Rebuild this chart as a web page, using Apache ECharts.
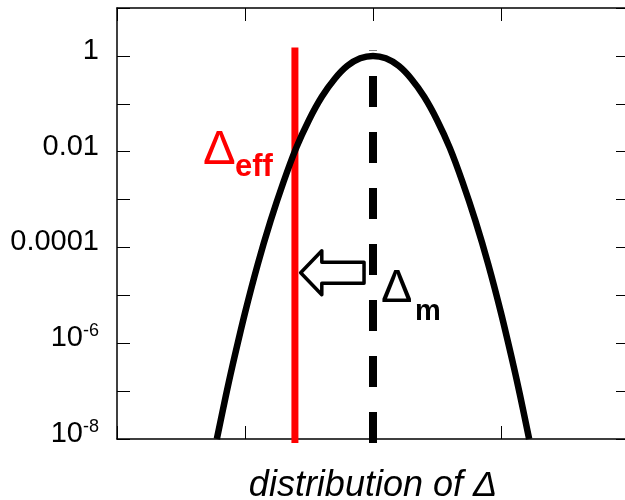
<!DOCTYPE html>
<html>
<head>
<meta charset="utf-8">
<style>
  html, body { margin: 0; padding: 0; background: #fff; }
  #chart { width: 625px; height: 500px; }
</style>
<script src="https://cdn.jsdelivr.net/npm/echarts@6/dist/echarts.min.js"></script>
</head>
<body>
<div id="chart"></div>
<script>
// Distribution curve (log-scale density vs. Δ)
const curveX = [0.78, 0.85, 0.90, 1.00, 1.10, 1.20, 1.30, 1.40, 1.50, 1.60, 1.70, 1.80, 1.90, 2.00,
                2.10, 2.20, 2.30, 2.40, 2.50, 2.60, 2.70, 2.80, 2.90, 3.00, 3.10, 3.15, 3.22];
const curveY = [1e-8, 7.9e-8, 3.2e-7, 4.3e-6, 4.5e-5, 3.6e-4, 2.3e-3, 1.2e-2, 4.6e-2, 0.14, 0.33, 0.62, 0.89, 1,
                0.89, 0.62, 0.33, 0.14, 4.6e-2, 1.2e-2, 2.3e-3, 3.6e-4, 4.5e-5, 4.3e-6, 3.2e-7, 7.9e-8, 1e-8];

// Reference positions on the Δ axis
const deltaEff = 1.39;
const deltaMean = 2.0;
const effLineY = [8.3e-9, 1.5];
const meanLineY = [8.3e-9, 1.3];

// Shift arrow (from Δm towards Δeff)
const arrowTipX = 1.435;
const arrowHeadX = 1.60;
const arrowTailX = 1.93;
const arrowY = 2.95e-5;

// Y tick labels (by decade exponent)
const yTickExp = [-8, -6, -4, -2, 0];
const yTickLabels = ['{b|10}{s|-8}', '{b|10}{s|-6}', '0.0001', '0.01', '1'];

const FONT = '"Liberation Sans", Arial, Helvetica, sans-serif';

const chart = echarts.init(document.getElementById('chart'), null, { renderer: 'canvas' });

function yLabel(v) {
  const e = Math.round(Math.log10(v));
  const i = yTickExp.indexOf(e);
  return i >= 0 ? yTickLabels[i] : '';
}

const axisLineStyle = { color: '#000', width: 1.5 };
const tickStyle = { color: '#000', width: 1 };

const option = {
  animation: false,
  backgroundColor: '#fff',
  grid: { left: 117, right: -4, top: 8, bottom: 61, outerBoundsMode: 'none', containLabel: false },
  xAxis: [
    {
      type: 'value', min: 0, max: 4, interval: 1, position: 'bottom',
      axisLine: { show: true, lineStyle: axisLineStyle },
      axisTick: { show: true, inside: true, length: 13, lineStyle: tickStyle },
      axisLabel: { show: false },
      splitLine: { show: false },
      name: 'distribution of Δ',
      nameLocation: 'middle',
      nameGap: 29,
      nameTextStyle: { fontFamily: FONT, fontStyle: 'italic', fontSize: 36, color: '#000', verticalAlign: 'top' }
    },
    {
      type: 'value', min: 0, max: 4, interval: 1, position: 'top',
      axisLine: { show: true, onZero: false, lineStyle: axisLineStyle },
      axisTick: { show: true, inside: true, length: 13, lineStyle: tickStyle },
      axisLabel: { show: false },
      splitLine: { show: false }
    }
  ],
  yAxis: [
    {
      type: 'log', logBase: 10, min: 1e-8, max: 10, interval: 1, position: 'left',
      axisLine: { show: true, onZero: false, lineStyle: axisLineStyle },
      axisTick: { show: true, inside: true, length: 13, lineStyle: tickStyle },
      splitLine: { show: false },
      axisLabel: {
        show: true, margin: 18, color: '#000', fontFamily: FONT, fontSize: 29,
        padding: [0, 0, 10, 0],
        formatter: yLabel,
        rich: {
          b: { fontFamily: FONT, fontSize: 29, color: '#000', lineHeight: 32 },
          s: { fontFamily: FONT, fontSize: 18, color: '#000', lineHeight: 18, verticalAlign: 'top' }
        }
      }
    },
    {
      type: 'log', logBase: 10, min: 1e-8, max: 10, interval: 1, position: 'right',
      axisLine: { show: true, onZero: false, lineStyle: axisLineStyle },
      axisTick: { show: true, inside: true, length: 13, lineStyle: tickStyle },
      axisLabel: { show: false },
      splitLine: { show: false }
    }
  ],
  series: [
    {
      // Δeff marker line
      type: 'line', xAxisIndex: 0, yAxisIndex: 0, clip: false,
      data: effLineY.map(y => [deltaEff, y]),
      symbol: 'none',
      lineStyle: { color: '#ff0000', width: 7, cap: 'butt' },
      silent: true
    },
    {
      // Δm marker line (dashed)
      type: 'line', xAxisIndex: 0, yAxisIndex: 0, clip: false,
      data: meanLineY.map(y => [deltaMean, y]),
      symbol: 'none',
      lineStyle: { color: '#000', width: 8, type: [31, 25], cap: 'butt' },
      silent: true
    },
    {
      // distribution curve
      type: 'line', xAxisIndex: 0, yAxisIndex: 0, clip: true,
      data: curveX.map((x, i) => [x, curveY[i]]),
      symbol: 'none', smooth: 0.3,
      lineStyle: { color: '#000', width: 6.5 },
      silent: true,
      z: 3
    },
    {
      // shift arrow and Δ labels
      type: 'custom', xAxisIndex: 0, yAxisIndex: 0,
      data: [[arrowTipX, arrowY]],
      silent: true,
      z: 5,
      renderItem: function (params, api) {
        const tip = api.coord([arrowTipX, arrowY]);
        const head = api.coord([arrowHeadX, arrowY]);
        const tail = api.coord([arrowTailX, arrowY]);
        const hh = 22, sh = 10.5;
        const pts = [
          [tip[0], tip[1]],
          [head[0], tip[1] - hh],
          [head[0], tip[1] - sh],
          [tail[0], tip[1] - sh],
          [tail[0], tip[1] + sh],
          [head[0], tip[1] + sh],
          [head[0], tip[1] + hh]
        ];
        const effAnchor = api.coord([deltaEff, 1e-2]);
        const meanAnchor = api.coord([deltaMean, 1e-5]);
        return {
          type: 'group',
          children: [
            {
              type: 'polygon',
              shape: { points: pts },
              style: { fill: '#fff', stroke: '#000', lineWidth: 3.5, lineJoin: 'round' }
            },
            {
              type: 'text',
              x: effAnchor[0] - 92, y: effAnchor[1] - 1.5,
              style: { text: 'Δ', font: '49px ' + FONT, fill: '#ff0000', align: 'left', verticalAlign: 'middle' }
            },
            {
              type: 'text',
              x: effAnchor[0] - 60, y: effAnchor[1] + 15.5,
              style: { text: 'eff', font: 'bold 31px ' + FONT, fill: '#ff0000', align: 'left', verticalAlign: 'middle' }
            },
            {
              type: 'text',
              x: meanAnchor[0] + 8, y: meanAnchor[1] - 6,
              style: { text: 'Δ', font: '47px ' + FONT, fill: '#000', align: 'left', verticalAlign: 'middle' }
            },
            {
              type: 'text',
              x: meanAnchor[0] + 42, y: meanAnchor[1] + 17,
              style: { text: 'm', font: 'bold 29px ' + FONT, fill: '#000', align: 'left', verticalAlign: 'middle' }
            }
          ]
        };
      }
    }
  ]
};

chart.setOption(option);
</script>
</body>
</html>
